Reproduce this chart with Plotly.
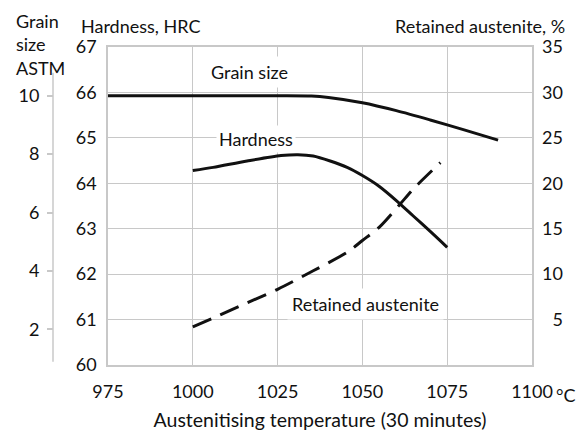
import plotly.graph_objects as go

# temperaturas (°C) y valores
temp_grano = [975, 1000, 1025, 1035, 1040, 1050, 1060, 1070, 1080, 1090]
grano_astm = [10.0, 10.0, 10.0, 9.99, 9.94, 9.76, 9.49, 9.17, 8.83, 8.48]

temp_dureza = [1000, 1006, 1016, 1026, 1031, 1035.5, 1040.5, 1045.5, 1050, 1055, 1060, 1065, 1070, 1075]
dureza_hrc = [64.28, 64.35, 64.49, 64.61, 64.63, 64.60, 64.49, 64.35, 64.17, 63.93, 63.62, 63.28, 62.94, 62.59]

temp_austenita = [1000, 1006, 1016, 1025, 1035.5, 1045.5, 1050, 1055, 1061, 1065, 1073]
austenita_ret = [4.2, 5.18, 6.84, 8.33, 10.37, 12.4, 13.7, 15.18, 17.66, 19.37, 22.28]

x_ticks = [975, 1000, 1025, 1050, 1075, 1100]
x_ticktext = ["975", "1000", "1025", "1050", "1075", "1100"]
hrc_ticks = [60, 61, 62, 63, 64, 65, 66, 67]
ra_ticks = [5, 10, 15, 20, 25, 30, 35]
ra_ticktext = ["\u20075", "10", "15", "20", "25", "30", "35"]
grano_ticks = [2, 4, 6, 8, 10]

FUENTE = "Lato"
GRIS = "#c8c8c8"
NEGRO = "#111111"
TAM = 18

fig = go.Figure()

fig.add_trace(go.Scatter(x=temp_grano, y=grano_astm, yaxis="y3", mode="lines",
                         line=dict(color=NEGRO, width=3, shape="spline", smoothing=0.8)))
fig.add_trace(go.Scatter(x=temp_dureza, y=dureza_hrc, yaxis="y", mode="lines",
                         line=dict(color=NEGRO, width=3, shape="spline", smoothing=0.8)))
fig.add_trace(go.Scatter(x=temp_austenita, y=austenita_ret, yaxis="y2", mode="lines",
                         line=dict(color=NEGRO, width=3, shape="spline", smoothing=0.8,
                                   dash="20px,10px")))

# margen izquierdo pequeño: el eje de grano va fuera del area de datos
ml, mr, mt, mb = 20, 56, 47, 76
ancho_papel = 588 - ml - mr
alto = 441 - mt - mb
x0_dominio = (108 - ml) / ancho_papel
pos_grano = (53 - ml) / ancho_papel

fig.update_layout(
    width=588, height=441,
    margin=dict(l=ml, r=mr, t=mt, b=mb, autoexpand=False),
    plot_bgcolor="white", paper_bgcolor="white",
    showlegend=False,
    font=dict(family=FUENTE, size=TAM, color=NEGRO),
    xaxis=dict(
        domain=[x0_dominio, 1], range=[975, 1100], automargin=False,
        tickvals=x_ticks, ticktext=x_ticktext,
        showgrid=True, gridcolor=GRIS, gridwidth=1,
        showline=True, linecolor=GRIS, linewidth=1.5, mirror=True,
        ticks="", ticklabelstandoff=10, zeroline=False,
        title=dict(text="Austenitising temperature (30 minutes)", standoff=12,
                   font=dict(size=19.5)),
    ),
    yaxis=dict(
        range=[60, 67], tickvals=hrc_ticks, automargin=False,
        showgrid=True, gridcolor=GRIS, gridwidth=1,
        showline=True, linecolor=GRIS, linewidth=1.5, mirror=True,
        ticks="", ticklabelstandoff=6, zeroline=False,
    ),
    yaxis2=dict(
        overlaying="y", side="right", range=[0, 35], automargin=False,
        tickvals=ra_ticks, ticktext=ra_ticktext,
        showgrid=False, showline=False, ticks="", ticklabelstandoff=9, zeroline=False,
    ),
    yaxis3=dict(
        overlaying="y", side="left", anchor="free", position=pos_grano,
        range=[0.776, 11.67], tickvals=grano_ticks, automargin=False,
        showgrid=False, showline=False, zeroline=False,
        ticks="outside", ticklen=6, tickcolor=GRIS, tickwidth=1.5,
        ticklabelstandoff=4,
    ),
)

# linea del eje de grano (mas corta que el area de datos)
fig.add_shape(type="line", xref="paper", yref="y3", x0=pos_grano, x1=pos_grano,
              y0=0.89, y1=10.79, line=dict(color=GRIS, width=1.5), layer="below")


def py(px):
    # convierte pixel de pantalla a coordenada paper en vertical
    return (441 - mb - px) / alto


def pxx(px):
    return (px - ml) / ancho_papel


# titulos de ejes
fig.add_annotation(text="Grain<br>size<br>ASTM", xref="paper", yref="paper",
                   x=pxx(14), y=py(8), xanchor="left", yanchor="top", align="left",
                   showarrow=False, font=dict(size=TAM))
fig.add_annotation(text="Hardness, HRC", xref="paper", yref="paper",
                   x=pxx(79), y=py(26), xanchor="left", yanchor="middle",
                   showarrow=False, font=dict(size=TAM))
fig.add_annotation(text="Retained austenite, %", xref="paper", yref="paper",
                   x=pxx(567), y=py(26), xanchor="right", yanchor="middle",
                   showarrow=False, font=dict(size=TAM))
fig.add_annotation(text="°C", xref="x", yref="paper", x=1100, y=py(395),
                   xanchor="left", yanchor="middle", xshift=22,
                   showarrow=False, font=dict(size=TAM))

# etiquetas de curvas con fondo blanco
fig.add_annotation(text="Grain size", x=1016.6, y=66.46, xref="x", yref="y",
                   showarrow=False, bgcolor="white", borderpad=4, font=dict(size=TAM))
fig.add_annotation(text="Hardness", x=1018.5, y=64.97, xref="x", yref="y",
                   showarrow=False, bgcolor="white", borderpad=2, font=dict(size=TAM))
fig.add_annotation(text="Retained austenite", x=1051, y=61.34, xref="x", yref="y",
                   showarrow=False, bgcolor="white", borderpad=4, font=dict(size=TAM))

# la pagina trae margen por defecto en el body; se quita para que cuadre con la ventana
fig.write_html("out.html", config={"displayModeBar": False},
               post_script="document.body.style.margin='0';")
